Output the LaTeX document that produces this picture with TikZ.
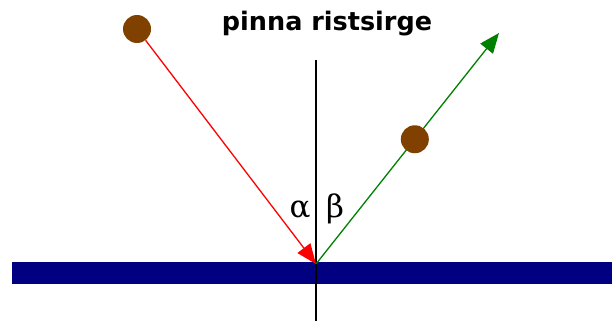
\documentclass[tikz,border=0pt]{standalone}
\usepackage{fontspec}
\setmainfont{Liberation Sans}
\newfontfamily\grk{DejaVu Serif}
\newfontfamily\ttl{DejaVu Sans}
\usetikzlibrary{arrows.meta,calc}
\definecolor{navy}{RGB}{0,0,128}
\definecolor{dotbrown}{RGB}{128,64,0}
\definecolor{raygreen}{RGB}{0,128,0}
\tikzset{
  ray/.style={line width=1.3pt},
  dot/.style={circle, fill=dotbrown, minimum size=28pt, inner sep=0pt},
  head/.style={-{Triangle[length=20pt,width=16pt]}},
  greek/.style={font=\grk\fontsize{31}{34}\selectfont, inner sep=0pt},
}
\begin{document}
\begin{tikzpicture}[x=1pt,y=-1pt]
\useasboundingbox (0,0) rectangle (612,321);
\fill[navy] (12,262) rectangle (612,284);
\coordinate (top) at (316,60);
\coordinate (bot) at (316,321);
\coordinate (O) at (316,264);
\draw[line width=2.8pt] (top) -- (bot);
\node[dot] (src) at (137,29) {};
\coordinate (tip) at (499,33);
\draw[ray, red, head] (src) -- (O);
\draw[ray, raygreen, head] (O) -- (tip);
\node[dot] (img) at ($(O)!0.54!(tip)$) {};
\node[font=\ttl\bfseries\fontsize{25.5}{28}\selectfont, anchor=base] (title) at (327,31) {pinna ristsirge};
\node[greek, anchor=base] (alpha) at (300,217) {α};
\node[greek, anchor=base] (beta) at (335,217) {β};
\end{tikzpicture}
\end{document}
